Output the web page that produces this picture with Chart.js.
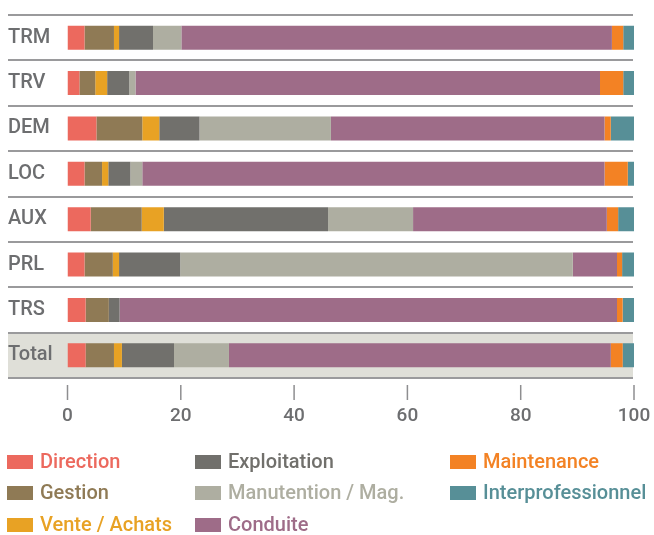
<!DOCTYPE html>
<html>
<head>
<meta charset="utf-8">
<script src="https://cdn.jsdelivr.net/npm/chart.js@4/dist/chart.umd.min.js"></script>
<style>
  html, body { margin: 0; padding: 0; background: #fff; }
  #wrap { width: 654px; height: 535px; }
</style>
</head>
<body>
<div id="wrap"><canvas id="metiers"></canvas></div>
<script>
const categories = ["TRM", "TRV", "DEM", "LOC", "AUX", "PRL", "TRS", "Total"];

const direction      = [3.0, 2.1, 5.1, 3.0, 4.1, 3.0, 3.2, 3.2];
const gestion        = [5.2, 2.8, 8.1, 3.1, 9.0, 5.0, 4.1, 5.0];
const venteAchats    = [0.9, 2.1, 3.0, 1.1, 3.9, 1.1, 0.0, 1.4];
const exploitation   = [6.0, 3.9, 7.1, 3.9, 29.0, 10.8, 1.9, 9.2];
const manutention    = [5.0, 1.1, 23.2, 2.1, 15.0, 69.3, 0.0, 9.7];
const conduite       = [76.0, 82.0, 48.3, 81.6, 34.2, 7.8, 87.8, 67.4];
const maintenance    = [2.0, 4.1, 1.1, 4.1, 2.0, 0.9, 1.0, 2.1];
const interpro       = [2.0, 1.9, 4.1, 1.1, 2.8, 2.1, 2.0, 2.0];

const xTicks = [0, 20, 40, 60, 80, 100];

const FONT = "Roboto, 'Open Sans', sans-serif";

const series = [
  { label: "Direction", data: direction, color: "#ec695e" },
  { label: "Gestion", data: gestion, color: "#8f7a55" },
  { label: "Vente / Achats", data: venteAchats, color: "#e8a224" },
  { label: "Exploitation", data: exploitation, color: "#71706c" },
  { label: "Manutention / Mag.", data: manutention, color: "#aeaea1" },
  { label: "Conduite", data: conduite, color: "#9e6c88" },
  { label: "Maintenance", data: maintenance, color: "#f38224" },
  { label: "Interprofessionnel", data: interpro, color: "#578f97" },
];

// rows, separators, "Total" band, x tick marks and the 3-column legend
const decor = {
  id: "decor",
  beforeDraw(chart) {
    const { ctx, chartArea, scales } = chart;
    const y = scales.y;
    const n = categories.length;
    const step = (chartArea.bottom - chartArea.top) / n;
    const left = 8, right = 633;
    ctx.save();
    // total band
    const ty = y.getPixelForValue(n - 1);
    ctx.fillStyle = "#dfdfd8";
    ctx.fillRect(left, ty - step / 2, right - left, step);
    // separator lines
    ctx.strokeStyle = "#9a9a9c";
    ctx.lineWidth = 2;
    for (let i = 0; i <= n; i++) {
      const yy = Math.round(y.getPixelForValue(0) - step / 2 + i * step);
      ctx.beginPath();
      ctx.moveTo(left, yy);
      ctx.lineTo(right, yy);
      ctx.stroke();
    }
    // x tick marks
    ctx.strokeStyle = "#8e8e90";
    ctx.lineWidth = 1.5;
    xTicks.forEach((t) => {
      const xx = scales.x.getPixelForValue(t);
      ctx.beginPath();
      ctx.moveTo(xx, chartArea.bottom + 7);
      ctx.lineTo(xx, chartArea.bottom + 22);
      ctx.stroke();
    });
    ctx.restore();
  },
  afterDraw(chart) {
    const { ctx } = chart;
    const colX = [7, 195, 450];
    const rowY = [462, 493, 525];
    ctx.save();
    ctx.font = "500 20px " + FONT;
    ctx.textBaseline = "middle";
    ctx.textAlign = "left";
    chart.data.datasets.forEach((ds, i) => {
      const cx = colX[Math.floor(i / 3)];
      const cy = rowY[i % 3];
      ctx.fillStyle = ds.backgroundColor;
      ctx.fillRect(cx, cy - 7, 26, 14);
      ctx.fillText(ds.label, cx + 33, cy + 1);
    });
    ctx.restore();
  },
};

new Chart(document.getElementById("metiers"), {
  type: "bar",
  data: {
    labels: categories,
    datasets: series.map((s) => ({
      label: s.label,
      data: s.data,
      backgroundColor: s.color,
      borderWidth: 0,
      categoryPercentage: 1,
      barPercentage: 0.53,
    })),
  },
  options: {
    indexAxis: "y",
    responsive: true,
    maintainAspectRatio: false,
    animation: false,
    layout: { padding: { left: 8, right: 20, top: 14, bottom: 110 } },
    plugins: {
      legend: { display: false },
      tooltip: { enabled: false },
    },
    scales: {
      x: {
        stacked: true,
        min: 0,
        max: 100,
        afterBuildTicks: (s) => { s.ticks = xTicks.map((v) => ({ value: v })); },
        afterFit: (s) => { s.height = 47; s.paddingRight = 0; s.paddingLeft = 0; },
        grid: { display: false, drawTicks: false },
        border: { display: false },
        ticks: { padding: 27, color: "#6d6e70", font: { family: FONT, size: 19, weight: 500 } },
      },
      y: {
        stacked: true,
        afterFit: (s) => { s.width = 59.5; },
        grid: { display: false, drawTicks: false },
        border: { display: false },
        ticks: { crossAlign: "far", color: "#6d6e70", font: { family: FONT, size: 20, weight: 500 } },
      },
    },
  },
  plugins: [decor],
});
</script>
</body>
</html>
